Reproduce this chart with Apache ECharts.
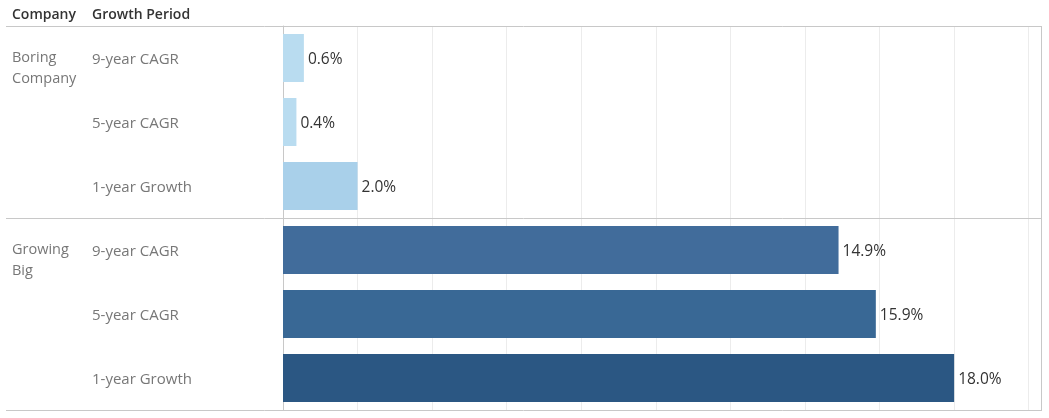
<!DOCTYPE html>
<html><head><meta charset="utf-8">
<script src="https://cdn.jsdelivr.net/npm/echarts@6/dist/echarts.min.js"></script>
<style>html,body{margin:0;padding:0;background:#fff}#c{width:1049px;height:418px}</style>
</head><body><div id="c"></div>
<script>
const headers = ['Company', 'Growth Period'];
const companies = ['Boring\nCompany', 'Growing\nBig'];
const periods = ['9-year CAGR', '5-year CAGR', '1-year Growth'];
const boringValues = [0.56, 0.36, 2.0];
const growingValues = [14.9, 15.9, 18.0];
const boringColors = ['#b9dcf0', '#b9dcf0', '#a9d0ea'];
const growingColors = ['#416c9b', '#396895', '#2b5783'];

const FONT = 'Open Sans';
const chart = echarts.init(document.getElementById('c'), null, {renderer: 'canvas'});
const gridLeft = 283, gridRight = 1041, panelH = 192, top0 = 26;

function grid(i) {
  return {left: gridLeft, top: top0 + i * panelH, width: gridRight - gridLeft, height: panelH, containLabel: false};
}
function xAx(i) {
  return {gridIndex: i, type: 'value', min: 0, max: 20.33, interval: 2,
    axisLine: {show: false}, axisTick: {show: false}, axisLabel: {show: false},
    splitLine: {show: true, lineStyle: {color: '#ececec', width: 1}}};
}
function yPeriod(i) {
  return {gridIndex: i, type: 'category', inverse: true, data: periods,
    axisLine: {show: true, lineStyle: {color: '#c8c8c8', width: 1}}, axisTick: {show: false},
    axisLabel: {align: 'left', margin: gridLeft - 92, color: '#777', fontFamily: FONT, fontSize: 15,
      formatter: v => '{p|' + v + '}',
      rich: {p: {color: '#777', fontFamily: FONT, fontSize: 15, padding: [4, 0, 0, 0]}}}};
}
function yCompany(i) {
  return {gridIndex: i, type: 'category', inverse: true, data: periods, position: 'left',
    axisLine: {show: false}, axisTick: {show: false}, splitLine: {show: false},
    axisLabel: {align: 'left', margin: gridLeft - 12, color: '#777', fontFamily: FONT, fontSize: 14.5,
      lineHeight: 21, verticalAlign: 'middle',
      formatter: (v, idx) => idx === 0 ? '\n' + companies[i] : ''}};
}
function barSeries(i, vals, cols) {
  return {type: 'bar', xAxisIndex: i, yAxisIndex: i * 2, barCategoryGap: '25%',
    data: vals.map((v, k) => ({value: v, itemStyle: {color: cols[k]}})),
    label: {show: true, position: 'right', distance: 4, offset: [0, 2], color: '#333', fontFamily: FONT, fontSize: 15.5,
      formatter: p => p.value.toFixed(1) + '%'},
    silent: true, animation: false};
}
const lineStyle = {stroke: '#c8c8c8', lineWidth: 1};
chart.setOption({
  animation: false,
  grid: [grid(0), grid(1)],
  xAxis: [xAx(0), xAx(1)],
  yAxis: [yPeriod(0), yCompany(0), yPeriod(1), yCompany(1)],
  series: [barSeries(0, boringValues, boringColors), barSeries(1, growingValues, growingColors)],
  graphic: [
    {type: 'text', left: 12, top: 8, style: {text: headers[0], fill: '#333', font: '600 14px "Open Sans"'}},
    {type: 'text', left: 92, top: 8, style: {text: headers[1], fill: '#333', font: '600 14px "Open Sans"'}},
    {type: 'line', shape: {x1: 6, y1: 26.5, x2: gridRight, y2: 26.5}, style: lineStyle, z: 10},
    {type: 'line', shape: {x1: 6, y1: 218.5, x2: gridRight, y2: 218.5}, style: lineStyle, z: 10},
    {type: 'line', shape: {x1: 6, y1: 410.5, x2: gridRight, y2: 410.5}, style: lineStyle, z: 10},
    {type: 'line', shape: {x1: gridRight + 0.5, y1: 26, x2: gridRight + 0.5, y2: 411}, style: lineStyle, z: 10}
  ]
});
</script></body></html>
